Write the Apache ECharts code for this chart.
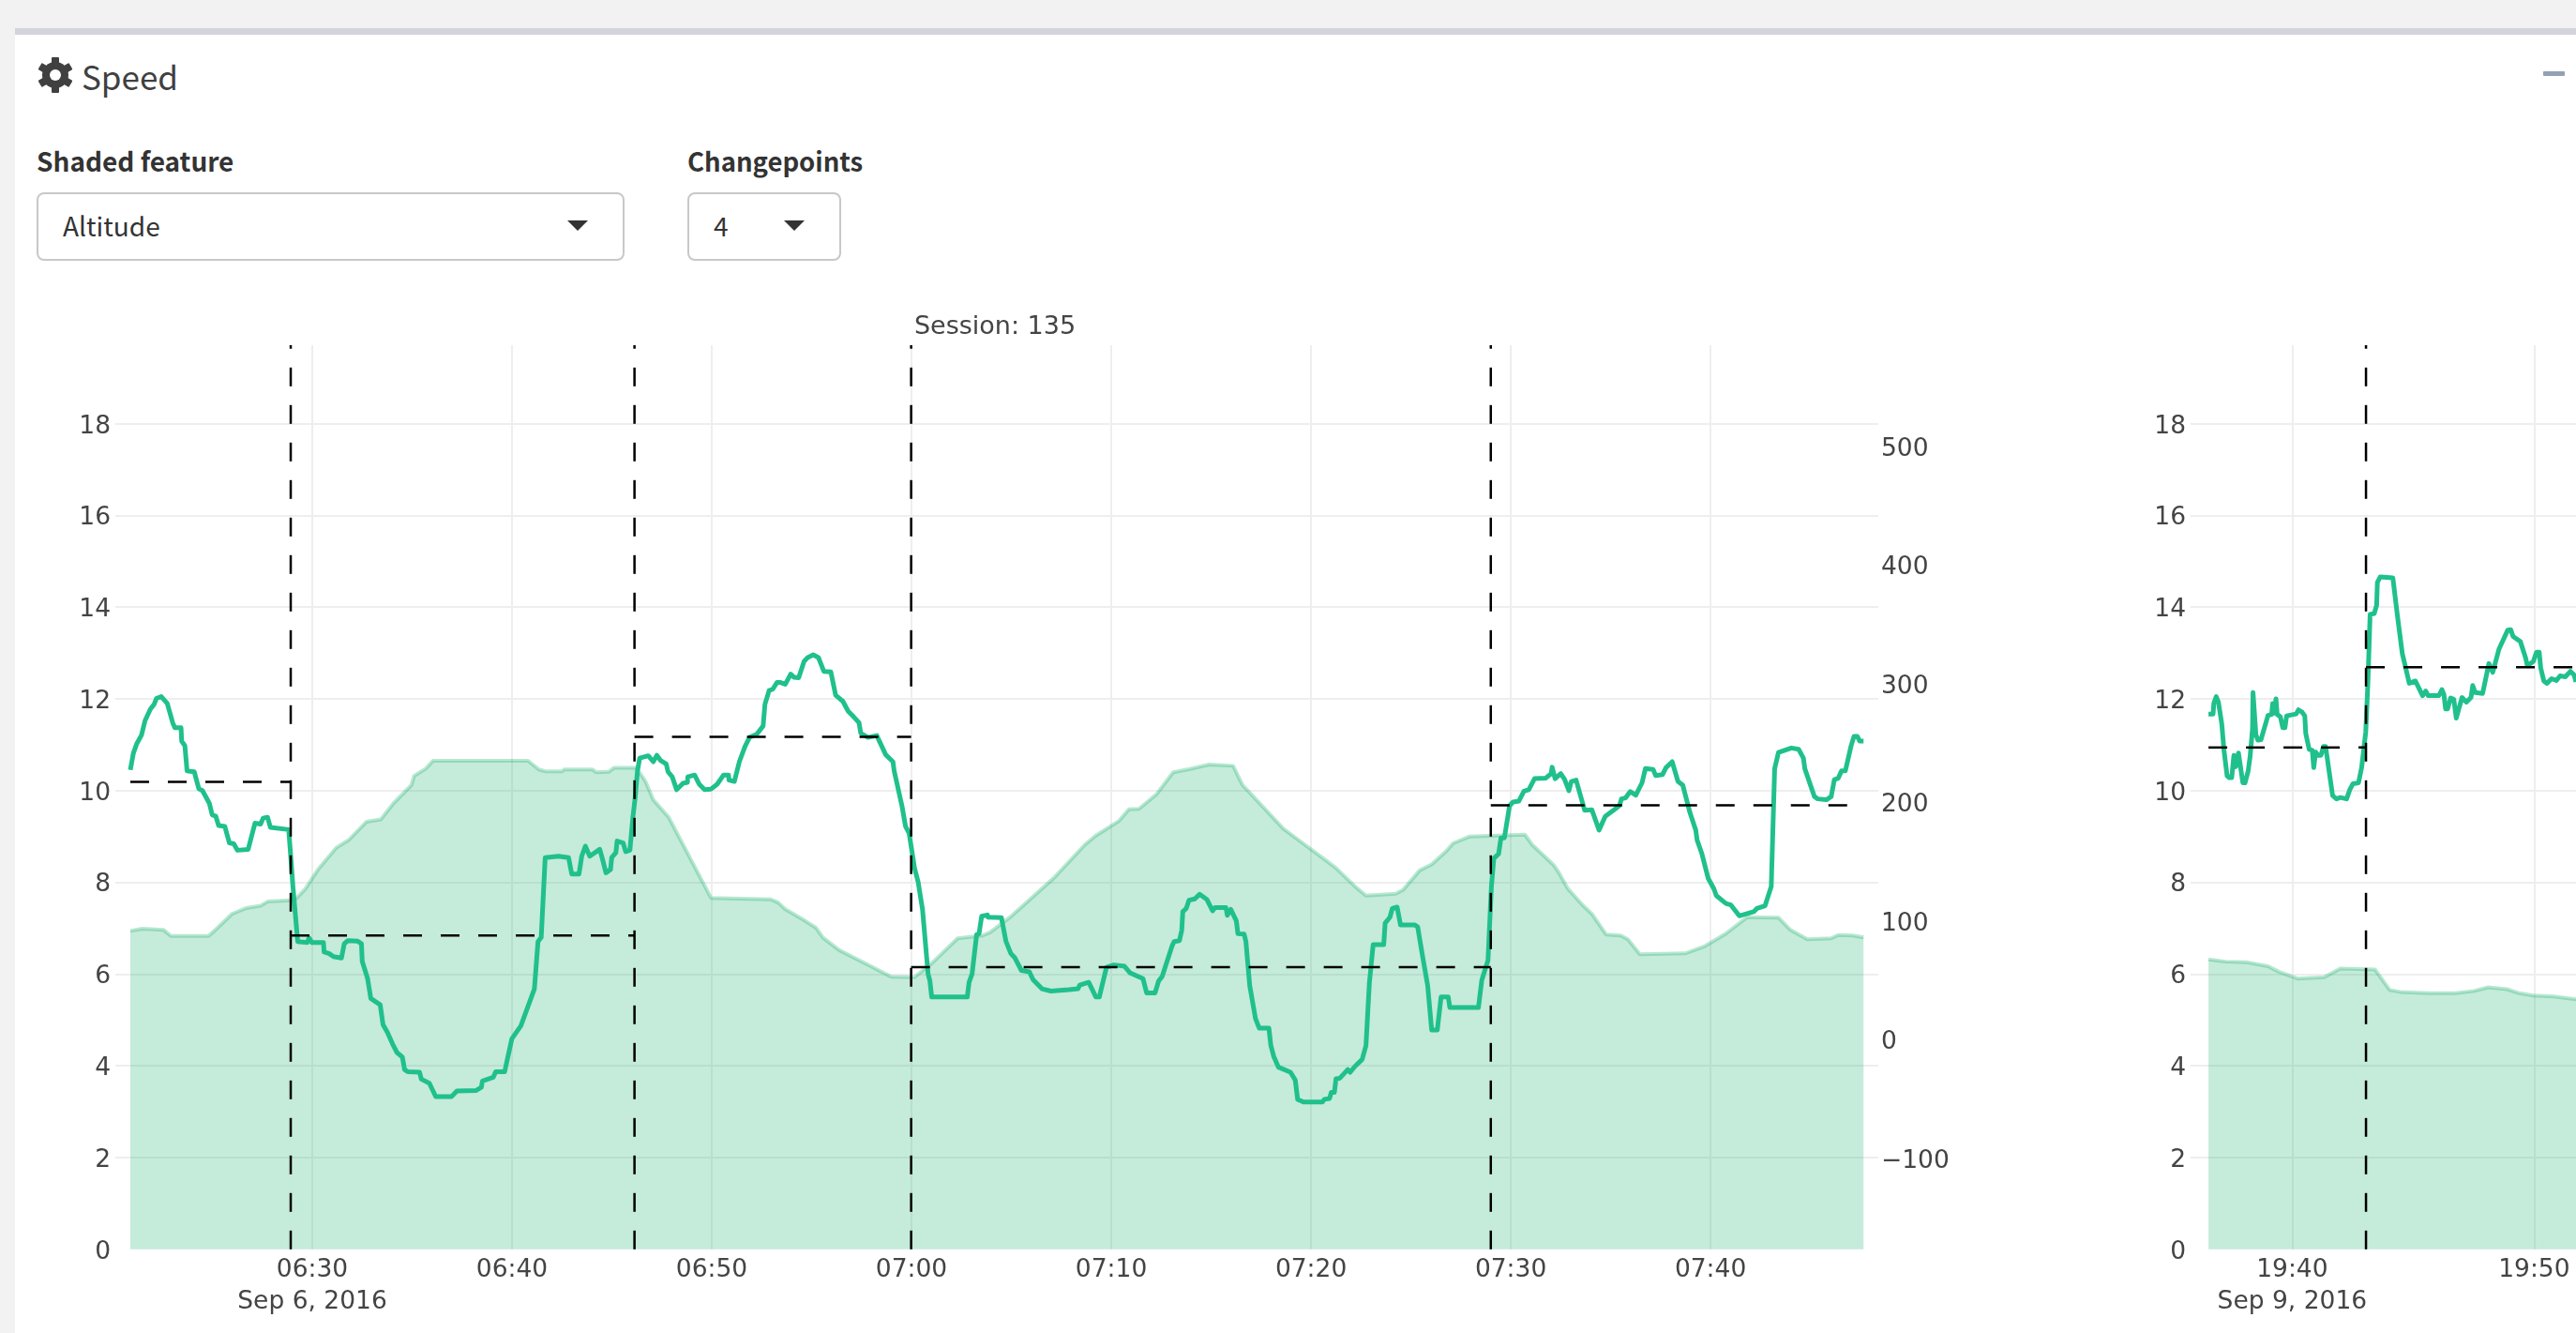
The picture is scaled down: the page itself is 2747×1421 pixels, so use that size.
<!DOCTYPE html>
<html lang="en">
<head>
<meta charset="UTF-8"/>
<title>Speed</title>
<script src="https://cdn.jsdelivr.net/npm/echarts@6/dist/echarts.min.js"></script>
<style>
    html, body { margin: 0; padding: 0; width: 2747px; height: 1421px; overflow: hidden; background: #f2f2f2; }
    body { font-family: "Noto Sans CJK SC", "Open Sans", sans-serif; color: #333; position: relative; }
    .abs { position: absolute; }
    #bar { left: 16px; right: 0; top: 30px; height: 7px; background: #d2d3dc; }
    #panel { left: 16px; right: 0; top: 37px; bottom: 0; background: #fff; }
    #main { left: 0; top: 0; width: 2747px; height: 1421px; }
    .lab { font-weight: 700; font-size: 28px; line-height: 34px; color: #333; }
    .sel { box-sizing: border-box; top: 205px; height: 73px; border: 2px solid #c8c8c8; border-radius: 8px; background: #fff; }
    .val { top: 222px; font-size: 28px; line-height: 36px; color: #333; }
    .arrow { top: 235px; width: 0; height: 0; border-left: 11px solid transparent; border-right: 11px solid transparent; border-top: 11px solid #333; }
</style>
</head>
<body>
<div class="abs" id="bar"></div>
<div class="abs" id="panel"></div>

<svg class="abs" style="left:40px;top:61px" width="38" height="38" viewBox="-19 -19 38 38" fill="#404040">
    <rect x="-4" y="-19" width="8" height="38" rx="1"/>
    <rect x="-4" y="-19" width="8" height="38" rx="1" transform="rotate(60)"/>
    <rect x="-4" y="-19" width="8" height="38" rx="1" transform="rotate(120)"/>
    <circle r="14"/>
    <circle r="6" fill="#fff"/>
</svg>
<div class="abs" style="left:87px;top:57px;font-size:35px;line-height:48px;color:#404040">Speed</div>
<div class="abs" style="left:2712px;top:76px;width:23px;height:5px;border-radius:1px;background:#94a0b4"></div>

<div class="abs lab" style="left:39px;top:154px">Shaded feature</div>
<div class="abs sel" style="left:39px;width:627px"></div>
<div class="abs val" style="left:67px">Altitude</div>
<div class="abs arrow" style="left:605px"></div>

<div class="abs lab" style="left:733px;top:154px;font-size:27.5px">Changepoints</div>
<div class="abs sel" style="left:733px;width:164px"></div>
<div class="abs val" style="left:761px">4</div>
<div class="abs arrow" style="left:836px"></div>

<div class="abs" id="main"></div>

<script type="text/javascript">
// session 135: minutes after 06:00
var xTicks135 = [30, 40, 50, 60, 70, 80, 90, 100];
var xLabels135 = ['06:30\nSep 6, 2016', '06:40', '06:50', '07:00', '07:10', '07:20', '07:30', '07:40'];
var speedT135 = [20.89,21.04,21.22,21.45,21.63,21.90,22.08,22.20,22.44,22.74,23.01,23.12,23.43,23.46,23.62,23.73,24.09,24.32,24.50,24.85,24.99,25.17,25.31,25.62,25.85,26.07,26.25,26.79,26.97,27.13,27.41,27.54,27.76,27.90,28.82,28.92,29.03,29.27,29.75,29.84,29.98,30.56,30.59,30.83,31.06,31.46,31.60,31.78,32.27,32.46,32.50,32.77,32.93,33.40,33.54,33.76,34.06,34.24,34.51,34.62,34.78,35.37,35.46,35.86,36.18,36.97,37.24,38.19,38.46,38.52,39.06,39.18,39.63,39.99,40.44,41.12,41.30,41.46,41.66,42.33,42.83,42.99,43.35,43.49,43.67,43.89,44.39,44.52,44.70,44.93,44.99,45.20,45.26,45.56,45.69,45.90,
    46.05,46.17,46.28,46.39,46.82,47.07,47.25,47.43,47.72,47.81,48.02,48.24,48.56,48.78,48.80,49.14,49.37,49.64,49.95,50.27,50.59,50.84,50.86,51.13,51.38,51.67,51.89,52.25,52.57,52.66,52.87,53.05,53.27,53.41,53.68,53.95,54.13,54.35,54.62,54.80,55.08,55.34,55.61,55.96,56.20,56.56,56.83,57.10,57.37,57.46,57.82,58.26,58.71,59.07,59.13,59.52,59.70,59.88,60.15,60.33,60.55,60.64,60.83,60.92,61.01,62.79,62.88,63.03,63.26,63.38,63.51,63.80,63.83,64.50,64.73,64.97,65.18,65.50,65.90,66.08,66.53,66.98,67.88,68.33,68.42,68.87,69.23,69.40,69.76,70.12,70.66,70.93,71.59,71.77,72.19,72.37,72.55,73.05,
    73.15,73.41,73.53,73.58,73.75,73.89,74.18,74.42,74.78,75.07,75.19,75.74,75.81,75.98,76.26,76.34,76.65,76.74,76.93,77.22,77.41,77.89,77.99,78.13,78.37,78.97,79.21,79.33,79.62,80.57,80.67,80.93,81.01,81.17,81.25,81.44,81.84,81.96,82.20,82.56,82.75,82.92,83.11,83.64,83.71,83.95,84.07,84.31,84.48,85.20,85.34,85.56,85.84,86.04,86.32,86.51,86.87,86.95,88.38,88.55,88.86,89.03,89.15,89.39,89.51,89.68,89.94,90.11,90.40,90.66,90.90,91.19,91.74,92.02,92.07,92.22,92.50,92.69,92.91,93.03,93.27,93.70,94.06,94.42,94.73,95.14,95.45,95.54,95.74,95.98,96.26,96.57,96.74,97.13,97.25,97.60,97.77,98.08,98.37,98.61,98.97,99.26,99.33,99.57,99.88,100.17,100.29,100.77,101.01,101.44,102.16,102.32,102.73,103.04,103.21,103.40,104.05,104.41,104.65,104.72,105.20,105.37,105.80,106.04,106.20,106.39,106.56,106.75,107.04,107.18,107.35,107.47,107.66];
var speed135 = [10.45,10.81,11.03,11.21,11.53,11.78,11.88,12.01,12.05,11.90,11.48,11.37,11.37,11.08,10.98,10.43,10.41,10.04,10.00,9.72,9.47,9.44,9.24,9.22,8.86,8.84,8.70,8.72,9.02,9.29,9.27,9.40,9.42,9.20,9.15,8.57,7.91,6.71,6.69,6.79,6.69,6.69,6.48,6.45,6.38,6.35,6.66,6.73,6.72,6.66,6.28,5.90,5.47,5.33,4.90,4.73,4.44,4.29,4.19,3.92,3.87,3.86,3.71,3.62,3.33,3.33,3.45,3.46,3.53,3.67,3.75,3.87,3.87,4.59,4.87,5.68,6.71,6.80,8.54,8.57,8.54,8.18,8.18,8.57,8.79,8.57,8.72,8.52,8.21,8.28,8.54,8.65,8.90,8.86,8.67,8.70,
    9.42,9.87,10.43,10.71,10.76,10.63,10.77,10.66,10.58,10.41,10.30,10.02,10.16,10.18,10.30,10.34,10.14,10.02,10.03,10.14,10.34,10.34,10.23,10.20,10.63,10.97,11.16,11.23,11.41,11.88,12.18,12.21,12.36,12.36,12.32,12.54,12.47,12.46,12.82,12.90,12.96,12.90,12.60,12.59,12.08,11.95,11.73,11.61,11.48,11.25,11.16,11.20,10.78,10.63,10.43,9.67,9.22,9.07,8.31,8.01,7.41,7.41,6.00,5.85,5.50,5.50,5.82,6.00,6.86,6.88,7.26,7.29,7.24,7.23,6.71,6.45,6.35,6.08,6.05,5.88,5.68,5.63,5.66,5.68,5.76,5.82,5.50,5.50,6.15,6.20,6.17,6.03,5.90,5.59,5.59,5.85,5.95,6.62,
    6.71,6.73,6.96,7.36,7.43,7.61,7.64,7.74,7.63,7.38,7.45,7.45,7.28,7.41,7.16,6.88,6.87,6.71,5.75,5.03,4.82,4.82,4.44,4.21,3.97,3.86,3.69,3.27,3.21,3.21,3.27,3.29,3.42,3.42,3.72,3.73,3.92,3.86,3.99,4.14,4.44,5.80,6.64,6.64,7.11,7.24,7.43,7.46,7.07,7.07,7.03,6.45,5.75,4.78,4.78,5.50,5.50,5.27,5.27,5.87,6.30,7.91,8.52,8.62,8.97,8.97,9.67,9.75,9.77,9.99,10.02,10.26,10.27,10.37,10.51,10.26,10.37,10.25,10.00,10.20,10.23,9.57,9.58,9.14,9.44,9.57,9.68,9.82,9.84,9.98,9.90,10.17,10.48,10.46,10.33,10.35,10.50,10.63,10.20,10.12,9.52,9.14,8.92,8.62,8.09,7.86,7.71,7.54,7.51,7.27,7.36,7.43,7.49,7.91,10.48,10.83,10.93,10.90,10.71,10.48,9.87,9.82,9.80,9.87,10.24,10.27,10.43,10.43,10.98,11.18,11.18,11.08,11.08];
var altT135 = [20.89,21.49,22.56,22.92,24.81,25.26,25.98,26.70,27.41,27.77,29.12,29.66,30.29,31.19,31.82,32.71,33.43,34.06,34.96,35.10,35.68,36.04,40.80,41.34,41.70,42.51,42.60,44.03,44.21,44.84,45.11,46.19,46.41,46.68,47.07,47.84,48.02,49.96,52.96,53.32,53.68,54.67,55.21,55.57,56.38,57.82,58.98,60.15,61.05,62.31,63.57,63.93,64.91,67.16,68.68,69.23,70.39,70.88,71.39,72.26,73.10,73.94,74.90,76.10,76.57,77.65,78.61,79.69,80.65,81.25,82.20,82.75,84.24,84.60,85.44,86.04,86.75,87.11,87.95,90.71,91.07,92.14,92.38,92.86,93.58,94.06,94.78,95.50,95.86,96.46,98.73,99.69,100.77,101.84,103.40,104.00,104.84,106.04,106.39,107.11,107.66];
var alt135 = [91.8,93.7,92.6,87.5,87.5,94.5,106.1,111.1,113.0,116.5,117.7,127.3,143.6,161.7,168.3,183.7,185.7,199.2,214.6,222.4,228.5,235.1,235.1,227.8,226.2,226.2,227.8,227.8,225.5,225.8,229.3,229.3,224.7,217.7,202.3,187.6,181.8,119.6,118.4,115.7,110.0,100.3,94.5,86.0,75.6,63.2,53.2,52.8,65.1,85.6,87.9,90.6,103.0,137.0,164.4,172.1,184.5,194.2,194.6,206.9,225.5,228.2,232.0,230.9,214.6,195.3,178.0,164.4,152.4,144.7,129.3,121.5,123.1,126.2,142.8,147.8,158.6,165.6,171.4,172.9,164.4,147.4,141.6,127.3,113.8,106.1,88.7,87.9,84.8,72.1,72.9,78.7,89.5,103.4,103.0,92.6,84.8,85.6,88.3,87.9,86.4];
var cuts135 = [20.89, 28.92, 46.13, 59.98, 89.00, 107.66];
var means135 = [10.19, 6.84, 11.17, 6.15, 9.68];

// second session: minutes after 19:00
var xTicks2 = [40, 50];
var xLabels2 = ['19:40\nSep 9, 2016', '19:50'];
var speedT2 = [36.54,36.73,36.76,36.86,36.95,37.09,37.18,37.31,37.40,37.50,37.59,37.67,37.78,37.96,38.05,38.18,38.26,38.36,38.38,38.50,38.58,38.71,39.00,39.15,39.19,39.25,39.33,39.38,39.51,39.61,39.70,39.77,39.96,40.16,40.26,40.41,40.52,40.56,40.70,40.83,40.89,40.97,41.06,41.19,41.29,41.38,41.67,41.83,41.99,42.25,42.38,42.51,42.74,42.87,43.04,43.13,43.22,43.39,43.49,43.52,43.64,44.16,44.35,44.55,44.84,45.09,45.39,45.52,45.62,46.06,46.19,46.27,46.34,46.42,46.55,46.68,46.78,47.02,47.20,47.39,47.46,47.56,47.87,48.13,48.29,48.55,48.91,49.03,49.13,49.43,49.65,49.72,49.97,50.10,50.21,50.27,50.40,50.53,50.72,50.92,51.07,51.29,51.50,51.65,51.73];
var speed2 = [11.67,11.67,11.90,12.05,11.93,11.45,10.88,10.32,10.28,10.28,10.77,10.52,10.82,10.17,10.17,10.43,10.74,11.35,12.14,11.22,11.10,11.11,11.64,11.66,11.90,11.69,12.00,11.66,11.61,11.37,11.37,11.63,11.65,11.67,11.76,11.71,11.63,11.25,10.90,10.88,10.50,10.84,10.77,10.77,10.96,10.96,9.89,9.82,9.85,9.82,10.02,10.15,10.17,10.50,11.28,12.37,13.84,13.86,14.04,14.54,14.66,14.64,13.81,12.99,12.34,12.39,12.07,12.17,12.07,12.07,12.20,12.10,11.78,11.78,12.02,11.99,11.58,12.03,11.93,12.03,12.29,12.14,12.12,12.77,12.58,13.09,13.50,13.51,13.36,13.25,12.89,12.72,12.82,13.02,13.02,12.68,12.39,12.34,12.44,12.40,12.50,12.48,12.60,12.52,12.37];
var altT2 = [36.54,37.25,38.09,39.00,39.45,40.22,41.32,41.99,43.42,44.03,44.48,45.65,46.74,47.52,48.10,48.88,49.39,49.97,50.81,51.73];
var alt2 = [67.8,65.9,65.5,62.0,57.4,51.6,52.8,60.1,59.3,42.0,40.4,39.3,39.3,41.2,44.3,42.7,39.3,37.3,36.6,34.2];
var cuts2 = [36.54, 43.05, 51.73];
var means2 = [10.94, 12.69];

var yTicks = [0, 2, 4, 6, 8, 10, 12, 14, 16, 18];
var altTicks = [-100, 0, 100, 200, 300, 400, 500];

var YMAX = 19.71, ALTMIN = -176.5, ALTMAX = 585.3;
var GREEN = 'rgb(32,192,140)';
var SHADE = 'rgb(23,175,107)';
var tickFont = {color: '#444', fontFamily: '"DejaVu Sans"', fontSize: 26.5};
// y labels sit a little under their gridline
var yRich = {a: Object.assign({padding: [6, 0, 0, 0]}, tickFont)};

function zip(a, b) {
    return a.map(function (v, i) { return [v, b[i]]; });
}

function xAxis(grid, min, max, ticks, labels) {
    return {
        type: 'value', gridIndex: grid, min: min, max: max,
        axisLine: {show: false},
        axisTick: {show: false, customValues: ticks},
        splitLine: {show: true, lineStyle: {color: '#eee', width: 2}},
        axisLabel: Object.assign({
            customValues: ticks, margin: 5, lineHeight: 34, hideOverlap: false,
            formatter: function (v) { return labels[ticks.indexOf(v)]; }
        }, tickFont)
    };
}

function leftAxis(grid) {
    return {
        type: 'value', gridIndex: grid, min: 0, max: YMAX,
        axisLine: {show: false},
        axisTick: {show: false, customValues: yTicks},
        splitLine: {show: true, showMinLine: false, lineStyle: {color: '#eee', width: 2}},
        axisLabel: {
            customValues: yTicks, margin: 5, rich: yRich,
            formatter: function (v) { return '{a|' + v + '}'; }
        }
    };
}

function rightAxis(grid, visible) {
    return {
        type: 'value', gridIndex: grid, position: 'right', min: ALTMIN, max: ALTMAX, show: visible,
        axisLine: {show: false},
        axisTick: {show: false, customValues: altTicks},
        splitLine: {show: false},
        axisLabel: {
            customValues: altTicks, margin: 3, rich: yRich,
            formatter: function (v) { return '{a|' + String(v).replace('-', '\u2212') + '}'; }
        }
    };
}

function sessionSeries(n, altT, alt, spT, sp, cuts, means) {
    var out = [];
    out.push({
        type: 'line', xAxisIndex: n, yAxisIndex: n * 2 + 1, data: zip(altT, alt),
        showSymbol: false, silent: true, z: 2,
        lineStyle: {color: SHADE, opacity: 0.3, width: 4},
        areaStyle: {color: SHADE, opacity: 0.25, origin: 'start'}
    });
    out.push({
        type: 'line', xAxisIndex: n, yAxisIndex: n * 2, data: zip(spT, sp),
        showSymbol: false, silent: true, z: 3,
        lineStyle: {color: GREEN, width: 5, join: 'round'}
    });
    // mean of each segment
    means.forEach(function (m, i) {
        out.push({
            type: 'line', xAxisIndex: n, yAxisIndex: n * 2,
            data: [[cuts[i], m], [cuts[i + 1], m]],
            showSymbol: false, silent: true, z: 4,
            lineStyle: {color: '#000', width: 2.5, type: [20, 20]}
        });
    });
    // changepoints, first and last cut are just the ends of the data
    cuts.slice(1, -1).forEach(function (c) {
        out.push({
            type: 'line', xAxisIndex: n, yAxisIndex: n * 2,
            data: [[c, 0], [c, YMAX]],
            showSymbol: false, silent: true, z: 4,
            lineStyle: {color: '#000', width: 2.5, type: [20, 20]}
        });
    });
    return out;
}

var myChart = echarts.init(document.getElementById('main'), null, {renderer: 'canvas'});
myChart.setOption({
    animation: false,
    backgroundColor: 'transparent',
    title: {
        text: 'Session: 135', left: 1056, top: 330, textAlign: 'center',
        textStyle: {color: '#444', fontFamily: '"DejaVu Sans"', fontSize: 27, fontWeight: 'normal'}
    },
    grid: [
        {left: 123, top: 368, width: 1880, height: 963.8},
        {left: 2336, top: 368, width: 411, height: 963.8}
    ],
    xAxis: [
        xAxis(0, 20.14, 108.40, xTicks135, xLabels135),
        xAxis(1, 35.80, 51.73, xTicks2, xLabels2)
    ],
    yAxis: [leftAxis(0), rightAxis(0, true), leftAxis(1), rightAxis(1, false)],
    series: sessionSeries(0, altT135, alt135, speedT135, speed135, cuts135, means135)
        .concat(sessionSeries(1, altT2, alt2, speedT2, speed2, cuts2, means2))
});
</script>
</body>
</html>
